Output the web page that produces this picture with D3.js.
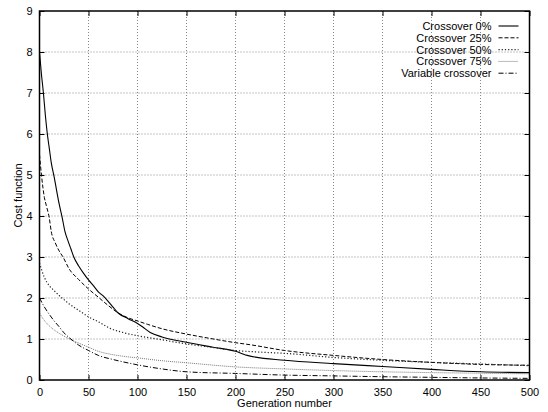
<!DOCTYPE html>
<html>
<head>
<meta charset="utf-8">
<script src="https://cdn.jsdelivr.net/npm/d3@7"></script>
<style>
  body { margin: 0; background: #fff; }
  text { font-family: "Liberation Sans", Arial, Helvetica, sans-serif; font-size: 11px; fill: #000; }
</style>
</head>
<body>
<script>
// generations (x) and cost values (y)
const gen0 = [0, 2, 4, 6, 8, 10, 12, 15, 18, 20, 23, 26, 29, 32, 35, 40, 45, 50, 55, 60, 65, 70, 75, 80, 90, 100, 105, 113, 125, 150, 177, 200, 205, 212, 250, 300, 350, 400, 450, 500];
const cost0 = [8.0, 7.45, 7.0, 6.45, 6.0, 5.65, 5.3, 4.95, 4.55, 4.3, 3.98, 3.62, 3.4, 3.2, 3.0, 2.78, 2.6, 2.44, 2.3, 2.15, 2.05, 1.92, 1.78, 1.64, 1.5, 1.38, 1.3, 1.16, 1.05, 0.92, 0.8, 0.7, 0.66, 0.6, 0.48, 0.4, 0.33, 0.26, 0.2, 0.18];

const gen25 = [0, 2, 5, 7, 10, 12, 16, 20, 24, 30, 40, 50, 60, 70, 80, 90, 100, 110, 125, 150, 175, 200, 215, 250, 300, 350, 400, 450, 500];
const cost25 = [5.5, 5.0, 4.45, 4.25, 3.95, 3.62, 3.35, 3.15, 3.0, 2.72, 2.45, 2.22, 2.02, 1.82, 1.64, 1.52, 1.44, 1.36, 1.25, 1.12, 1.01, 0.91, 0.86, 0.72, 0.6, 0.5, 0.43, 0.38, 0.36];

const gen50 = [0, 5, 10, 15, 20, 25, 30, 40, 50, 60, 72, 85, 100, 125, 150, 175, 200, 225, 250, 300, 350, 400, 450, 500];
const cost50 = [2.85, 2.5, 2.3, 2.18, 2.06, 1.96, 1.86, 1.7, 1.54, 1.42, 1.26, 1.16, 1.08, 0.98, 0.88, 0.8, 0.72, 0.68, 0.65, 0.55, 0.48, 0.43, 0.39, 0.35];

const gen75 = [0, 5, 10, 15, 20, 29, 40, 50, 60, 72, 85, 100, 125, 150, 200, 250, 300, 350, 400, 450, 500];
const cost75 = [1.63, 1.45, 1.32, 1.22, 1.14, 1.02, 0.9, 0.8, 0.7, 0.63, 0.58, 0.54, 0.47, 0.42, 0.32, 0.27, 0.23, 0.2, 0.18, 0.165, 0.15];

const genVar = [0, 5, 10, 15, 20, 25, 31, 40, 50, 60, 75, 100, 125, 150, 200, 250, 300, 350, 400, 450, 500];
const costVar = [2.0, 1.78, 1.6, 1.44, 1.3, 1.15, 1.02, 0.85, 0.72, 0.6, 0.5, 0.37, 0.27, 0.2, 0.16, 0.12, 0.1, 0.08, 0.065, 0.05, 0.04];

const seriesNames = ["Crossover 0%", "Crossover 25%", "Crossover 50%", "Crossover 75%", "Variable crossover"];
const xTicks = [0, 50, 100, 150, 200, 250, 300, 350, 400, 450, 500];
const yTicks = [0, 1, 2, 3, 4, 5, 6, 7, 8, 9];

const w = 548, h = 412;
const margin = {top: 11, right: 18.5, bottom: 32, left: 39.5};
const width = w - margin.left - margin.right;
const height = h - margin.top - margin.bottom;

const series = [
  {name: seriesNames[0], g: gen0, c: cost0, dash: null, color: "#000", sw: 1.1},
  {name: seriesNames[1], g: gen25, c: cost25, dash: "4,2", color: "#000", sw: 1},
  {name: seriesNames[2], g: gen50, c: cost50, dash: "1.2,2", color: "#222", sw: 1.2},
  {name: seriesNames[3], g: gen75, c: cost75, dash: "1,1", color: "#777", sw: 1},
  {name: seriesNames[4], g: genVar, c: costVar, dash: "5,2,1,2", color: "#000", sw: 1}
];

const svg = d3.select("body").append("svg")
  .attr("width", w)
  .attr("height", h);

const chart = svg.append("g")
  .attr("transform", "translate(" + margin.left + "," + margin.top + ")");

const x = d3.scaleLinear().domain([0, 500]).range([0, width]);
const y = d3.scaleLinear().domain([0, 9]).range([height, 0]);

// grid
chart.append("g").selectAll("line").data(xTicks.slice(1, -1)).enter().append("line")
  .attr("x1", d => x(d)).attr("x2", d => x(d))
  .attr("y1", 0).attr("y2", height)
  .attr("stroke", "#888").attr("stroke-width", 1).attr("stroke-dasharray", "1,2");
chart.append("g").selectAll("line").data(yTicks.slice(1, -1)).enter().append("line")
  .attr("y1", d => y(d)).attr("y2", d => y(d))
  .attr("x1", 0).attr("x2", width)
  .attr("stroke", "#888").attr("stroke-width", 1).attr("stroke-dasharray", "1,2");

// axes: labels outside, ticks pointing inward on all four sides
const xAxis = d3.axisBottom(x).tickValues(xTicks).tickSize(0).tickPadding(8);
const yAxis = d3.axisLeft(y).tickValues(yTicks).tickSize(0).tickPadding(7);
chart.append("g").attr("transform", "translate(0," + height + ")").call(xAxis)
  .call(g => g.select(".domain").remove());
chart.append("g").call(yAxis)
  .call(g => g.select(".domain").remove());
chart.selectAll(".tick text").style("font-size", "11px").attr("fill", "#000");

chart.append("g").call(d3.axisBottom(x).tickValues(xTicks).tickSize(-5).tickFormat(""))
  .attr("transform", "translate(0," + height + ")")
  .call(g => g.select(".domain").remove());
chart.append("g").call(d3.axisTop(x).tickValues(xTicks).tickSize(-5).tickFormat(""))
  .call(g => g.select(".domain").remove());
chart.append("g").call(d3.axisLeft(y).tickValues(yTicks).tickSize(-5).tickFormat(""))
  .call(g => g.select(".domain").remove());
chart.append("g").call(d3.axisRight(y).tickValues(yTicks).tickSize(-5).tickFormat(""))
  .attr("transform", "translate(" + width + ",0)")
  .call(g => g.select(".domain").remove());

// curves
const line = d3.line().curve(d3.curveMonotoneX).x(d => x(d[0])).y(d => y(d[1]));
series.forEach(function(s){
  chart.append("path")
    .datum(s.g.map((g, i) => [g, s.c[i]]))
    .attr("d", line)
    .attr("fill", "none")
    .attr("stroke", s.color)
    .attr("stroke-width", s.sw)
    .attr("stroke-dasharray", s.dash);
});

// border
chart.append("rect")
  .attr("width", width).attr("height", height)
  .attr("fill", "none").attr("stroke", "#000").attr("stroke-width", 1.5);

// legend
const legend = chart.append("g").attr("transform", "translate(" + (width - 38) + ",15)");
series.forEach(function(s, i){
  const row = legend.append("g").attr("transform", "translate(0," + (i * 11.8) + ")");
  row.append("text").attr("x", 0).attr("y", 4).attr("text-anchor", "end").text(s.name);
  row.append("line").attr("x1", 7).attr("x2", 27).attr("y1", 0).attr("y2", 0)
    .attr("stroke", s.color).attr("stroke-width", s.sw)
    .attr("stroke-dasharray", s.dash);
});

// axis titles
svg.append("text")
  .attr("x", margin.left + width / 2).attr("y", 407)
  .attr("text-anchor", "middle").text("Generation number");
svg.append("text")
  .attr("transform", "translate(22," + (margin.top + height / 2) + ") rotate(-90)")
  .attr("text-anchor", "middle").text("Cost function");
</script>
</body>
</html>
